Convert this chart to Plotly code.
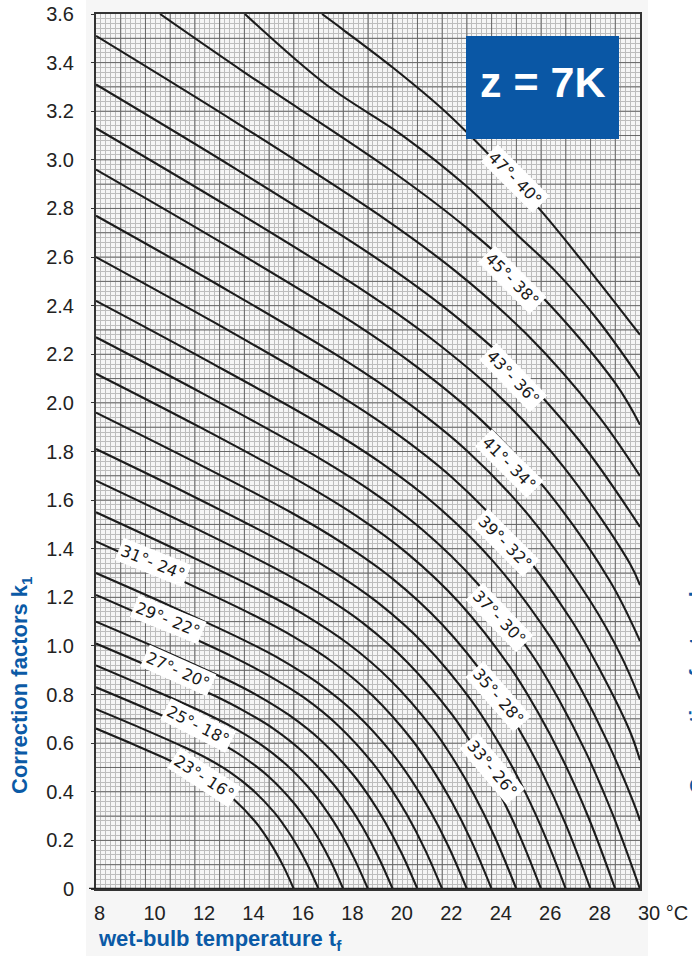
import plotly.graph_objects as go

# ---------------- data ----------------
outlet_temps = [16, 17, 18, 19, 20, 21, 22, 23, 24, 25, 26, 27, 28,
                29, 30, 31, 32, 33, 34, 35, 36, 37, 38, 39, 40]

curve_x = [
    [8, 9.6, 11.2, 12, 12.8, 13.6, 14.4, 14.8, 15.2, 15.6, 16],
    [8, 9.8, 11.6, 12.5, 13.4, 14.3, 15.2, 15.65, 16.1, 16.55, 17],
    [8, 10, 12, 13, 14, 15, 16, 16.5, 17, 17.5, 18],
    [8, 10.2, 12.4, 13.5, 14.6, 15.7, 16.8, 17.35, 17.9, 18.45, 19],
    [8, 10.4, 12.8, 14, 15.2, 16.4, 17.6, 18.2, 18.8, 19.4, 20],
    [8, 10.6, 13.2, 14.5, 15.8, 17.1, 18.4, 19.05, 19.7, 20.35, 21],
    [8, 10.8, 13.6, 15, 16.4, 17.8, 19.2, 19.9, 20.6, 21.3, 22],
    [8, 11, 14, 15.5, 17, 18.5, 20, 20.75, 21.5, 22.25, 23],
    [8, 11.2, 14.4, 16, 17.6, 19.2, 20.8, 21.6, 22.4, 23.2, 24],
    [8, 11.4, 14.8, 16.5, 18.2, 19.9, 21.6, 22.45, 23.3, 24.15, 25],
    [8, 11.6, 15.2, 17, 18.8, 20.6, 22.4, 23.3, 24.2, 25.1, 26],
    [8, 11.8, 15.6, 17.5, 19.4, 21.3, 23.2, 24.15, 25.1, 26.05, 27],
    [8, 12, 16, 18, 20, 22, 24, 25, 26, 27, 28],
    [8, 12.2, 16.4, 18.5, 20.6, 22.7, 24.8, 25.85, 26.9, 27.95, 29],
    [8, 12.4, 16.8, 19, 21.2, 23.4, 25.6, 26.7, 27.8, 28.9, 30],
    [8, 12.6, 17.2, 19.5, 21.8, 24.1, 26.4, 27.55, 28.7, 29.85, 30],
    [8, 12.8, 17.6, 20, 22.4, 24.8, 27.2, 28.4, 29.6, 30],
    [8, 13, 18, 20.5, 23, 25.5, 28, 29.25, 30],
    [8, 13.2, 18.4, 21, 23.6, 26.2, 28.8, 30],
    [8, 13.4, 18.8, 21.5, 24.2, 26.9, 29.6, 30],
    [8, 13.6, 19.2, 22, 24.8, 27.6, 30],
    [8, 13.8, 19.6, 22.5, 25.4, 28.3, 30],
    [10.59, 14, 20, 23, 26, 29, 30],
    [14.02, 17.3, 20.4, 23, 25.05, 26.6, 28.3, 30],
    [17.14, 18, 20, 22, 24, 26, 28, 30],
]

curve_k = [
    [0.66, 0.591, 0.519, 0.479, 0.430, 0.366, 0.282, 0.228, 0.164, 0.089, 0],
    [0.74, 0.663, 0.582, 0.537, 0.482, 0.411, 0.316, 0.255, 0.184, 0.100, 0],
    [0.83, 0.744, 0.653, 0.602, 0.540, 0.461, 0.354, 0.286, 0.207, 0.112, 0],
    [0.92, 0.824, 0.724, 0.667, 0.599, 0.511, 0.393, 0.317, 0.229, 0.124, 0],
    [1.01, 0.905, 0.795, 0.732, 0.658, 0.561, 0.431, 0.348, 0.251, 0.136, 0],
    [1.10, 0.986, 0.866, 0.798, 0.716, 0.611, 0.470, 0.380, 0.274, 0.149, 0],
    [1.21, 1.084, 0.952, 0.877, 0.788, 0.672, 0.517, 0.417, 0.301, 0.163, 0],
    [1.30, 1.165, 1.023, 0.943, 0.846, 0.722, 0.555, 0.449, 0.324, 0.176, 0],
    [1.43, 1.281, 1.125, 1.037, 0.931, 0.794, 0.611, 0.493, 0.356, 0.193, 0],
    [1.55, 1.389, 1.220, 1.124, 1.009, 0.860, 0.662, 0.535, 0.386, 0.209, 0],
    [1.68, 1.505, 1.322, 1.218, 1.094, 0.932, 0.717, 0.580, 0.418, 0.227, 0],
    [1.81, 1.622, 1.424, 1.312, 1.178, 1.005, 0.773, 0.624, 0.451, 0.244, 0],
    [1.96, 1.756, 1.543, 1.421, 1.276, 1.088, 0.837, 0.676, 0.488, 0.265, 0],
    [2.12, 1.900, 1.668, 1.537, 1.380, 1.177, 0.905, 0.731, 0.528, 0.286, 0],
    [2.27, 2.034, 1.786, 1.646, 1.478, 1.260, 0.969, 0.783, 0.565, 0.306, 0],
    [2.42, 2.168, 1.905, 1.755, 1.575, 1.344, 1.033, 0.835, 0.602, 0.326, 0.28],
    [2.60, 2.330, 2.046, 1.885, 1.693, 1.443, 1.110, 0.897, 0.647, 0.53],
    [2.77, 2.482, 2.180, 2.008, 1.803, 1.537, 1.183, 0.956, 0.78],
    [2.96, 2.652, 2.330, 2.146, 1.927, 1.643, 1.264, 1.02],
    [3.13, 2.804, 2.463, 2.269, 2.038, 1.738, 1.337, 1.25],
    [3.31, 2.966, 2.605, 2.400, 2.155, 1.838, 1.49],
    [3.51, 3.145, 2.762, 2.545, 2.284, 1.949, 1.70],
    [3.6, 3.36, 2.951, 2.719, 2.441, 2.081, 1.91],
    [3.6, 3.31, 3.10, 2.89, 2.69, 2.54, 2.34, 2.10],
    [3.6, 3.535, 3.38, 3.21, 3.01, 2.79, 2.54, 2.28],
]

label_text = ["31°- 24°", "29°- 22°", "27°- 20°", "25°- 18°", "23°- 16°",
              "47°- 40°", "45°- 38°", "43°- 36°", "41°- 34°",
              "39°- 32°", "37°- 30°", "35°- 28°", "33°- 26°"]
label_x = [10.30, 10.91, 11.32, 12.12, 12.37,
           24.94, 24.82, 24.86, 24.70, 24.54, 24.30, 24.26, 24.01]
label_k = [1.342, 1.107, 0.897, 0.671, 0.457,
           2.922, 2.506, 2.103, 1.749, 1.424, 1.115, 0.790, 0.494]
label_angle = [22, 22, 24, 27, 33,
               45, 45, 46, 45, 45, 46, 49, 50]

x_tick_vals = [8, 10, 12, 14, 16, 18, 20, 22, 24, 26, 28, 30]
x_tick_text = ["8", "10", "12", "14", "16", "18", "20", "22", "24", "26", "28", "30 °C"]
y_tick_vals = [0, 0.2, 0.4, 0.6, 0.8, 1.0, 1.2, 1.4, 1.6, 1.8, 2.0, 2.2,
               2.4, 2.6, 2.8, 3.0, 3.2, 3.4, 3.6]
y_tick_text = ["0", "0.2", "0.4", "0.6", "0.8", "1.0", "1.2", "1.4", "1.6", "1.8",
               "2.0", "2.2", "2.4", "2.6", "2.8", "3.0", "3.2", "3.4", "3.6"]

# ---------------- styling ----------------
BLUE = "#0b5aa6"
CURVE = "#1c1c1c"
MID_GRID = "#666666"
FINE_GRID = "#bdbdbd"
FONT = "Liberation Sans, Arial, Helvetica, sans-serif"

# plot area at x 96..640, y 14..889 of the 692x956 window
ML, MT = 96, 14
PW, PH = 544, 875
FIG_W, FIG_H = 692, 956
MR = FIG_W - ML - PW
MB = FIG_H - MT - PH


def px(xp):
    return (xp - 96) / PW


def py(yp):
    return (889 - yp) / PH


fig = go.Figure()

for T, xs, ks in zip(outlet_temps, curve_x, curve_k):
    fig.add_trace(go.Scatter(
        x=xs, y=ks, mode="lines", name=f"t2 = {T}°",
        line=dict(color=CURVE, width=2.1, shape="spline", smoothing=1.0),
        hoverinfo="skip", showlegend=False,
    ))

shapes = []
# light paper background of the scanned chart region
shapes.append(dict(type="rect", xref="paper", yref="paper",
                   x0=px(86), x1=px(648), y0=py(956), y1=py(0),
                   fillcolor="#f6f6f6", line=dict(width=0), layer="below"))
# medium graph-paper lines (every 1 °C and every 0.1)
for i in range(9, 30):
    shapes.append(dict(type="line", xref="x", yref="y", x0=i, x1=i, y0=0, y1=3.6,
                       line=dict(color=MID_GRID, width=1), layer="between"))
for j in range(1, 36):
    yv = j / 10
    shapes.append(dict(type="line", xref="x", yref="y", x0=8, x1=30, y0=yv, y1=yv,
                       line=dict(color=MID_GRID, width=1), layer="between"))
# heavier base line
shapes.append(dict(type="line", xref="paper", yref="y", x0=px(89), x1=1, y0=0, y1=0,
                   line=dict(color="#222222", width=2.5), layer="above"))
# blue badge
shapes.append(dict(type="rect", xref="paper", yref="paper",
                   x0=px(466), x1=px(619), y0=py(139), y1=py(36),
                   fillcolor="#0a57a5", line=dict(width=0), layer="above"))

annotations = []
for t, lx, lk, ang in zip(label_text, label_x, label_k, label_angle):
    annotations.append(dict(
        x=lx, y=lk, xref="x", yref="y", text=t, showarrow=False,
        xanchor="center", yanchor="middle",
        textangle=ang, bgcolor="white", borderpad=2,
        font=dict(family="DejaVu Sans, sans-serif", size=16, color="#1a1a1a"),
    ))

annotations.append(dict(
    x=px(542), y=py(82), xref="paper", yref="paper",
    xanchor="center", yanchor="middle",
    text="<b>z = 7K</b>", showarrow=False,
    font=dict(family=FONT, size=43, color="white"),
))
annotations.append(dict(
    x=px(21), y=py(685), xref="paper", yref="paper",
    xanchor="center", yanchor="middle",
    text="<b>Correction factors k<sub>1</sub></b>", showarrow=False, textangle=-90,
    font=dict(family=FONT, size=22, color=BLUE),
))
annotations.append(dict(
    x=0, y=py(940), xref="paper", yref="paper", xanchor="left", yanchor="middle",
    text="<b>wet-bulb temperature t<sub>f</sub></b>", showarrow=False,
    font=dict(family=FONT, size=22, color=BLUE),
))
# title of the neighbouring chart, cut off at the right edge
annotations.append(dict(
    x=px(699), y=py(685), xref="paper", yref="paper",
    xanchor="center", yanchor="middle",
    text="<b>Correction factors k<sub>1</sub></b>", showarrow=False, textangle=-90,
    font=dict(family=FONT, size=22, color=BLUE),
))

fig.update_layout(
    width=FIG_W, height=FIG_H,
    margin=dict(l=ML, r=MR, t=MT, b=MB, autoexpand=False),
    paper_bgcolor="white", plot_bgcolor="white",
    showlegend=False,
    shapes=shapes, annotations=annotations,
    xaxis=dict(
        range=[8, 30], tickmode="array", tickvals=x_tick_vals, ticktext=x_tick_text,
        showgrid=False, zeroline=False, automargin=False,
        showline=True, mirror=True, linecolor="#333333", linewidth=2,
        ticks="", ticklabelposition="outside right", ticklabelstandoff=5, ticklabelshift=-3,
        ticklabeloverflow="allow",
        tickfont=dict(family=FONT, size=20, color="#222222"),
        minor=dict(dtick=0.2, tick0=8, showgrid=True, gridcolor=FINE_GRID, gridwidth=1, ticks=""),
    ),
    yaxis=dict(
        range=[0, 3.6], tickmode="array", tickvals=y_tick_vals, ticktext=y_tick_text,
        showgrid=False, zeroline=False, automargin=False,
        showline=True, mirror=True, linecolor="#333333", linewidth=2,
        ticks="outside", ticklen=3, tickcolor="#333333", ticklabelstandoff=13,
        ticklabeloverflow="allow",
        tickfont=dict(family=FONT, size=20, color="#222222"),
        minor=dict(dtick=0.02, tick0=0, showgrid=True, gridcolor=FINE_GRID, gridwidth=1, ticks=""),
    ),
)

# remove the browser's default 8 px page margin so the figure sits at the window corner
fig.write_html("out.html", config={"displayModeBar": False},
               post_script="document.body.style.margin='0px';")
